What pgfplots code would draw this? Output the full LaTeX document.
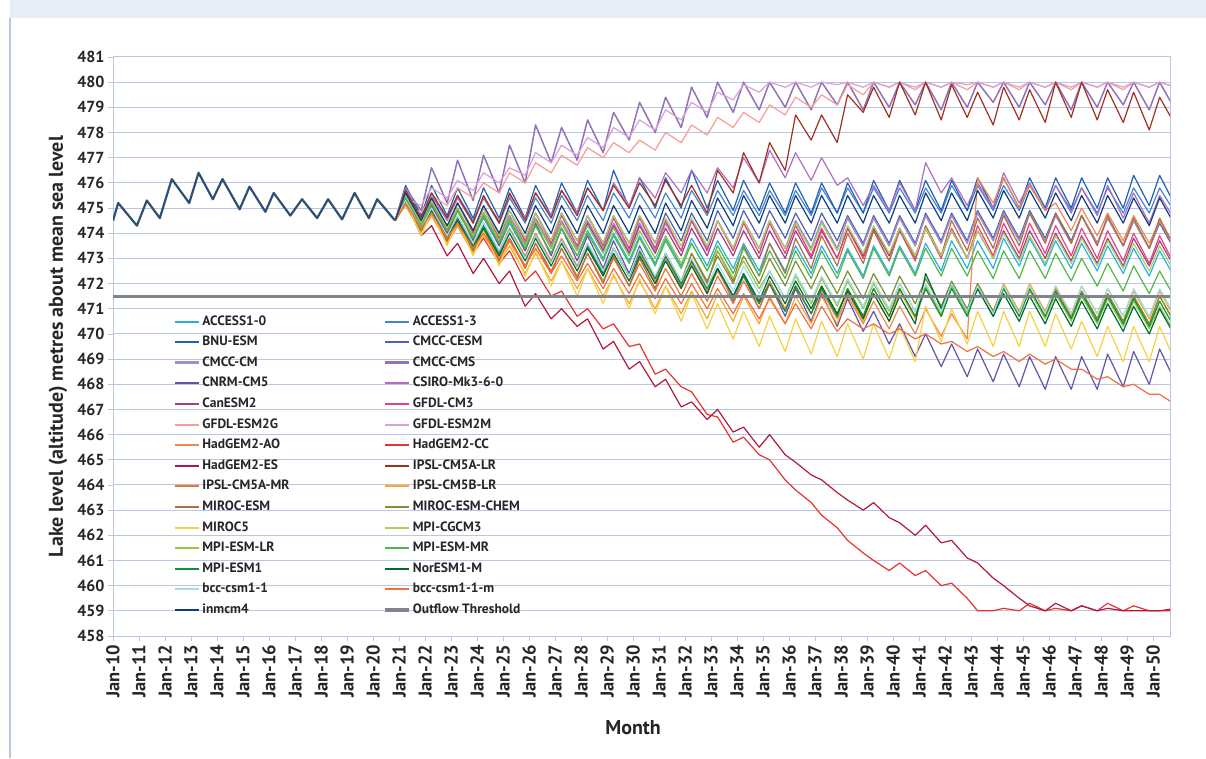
\documentclass[border=0pt]{standalone}
\usepackage{fontspec}
\setmainfont{PT Sans}
\usepackage{pgfplots}
\usepackage{pgfplotstable}
\pgfplotsset{compat=1.18}

\definecolor{gridc}{RGB}{185,199,228}
\definecolor{hdr}{RGB}{232,236,245}
\definecolor{histc}{RGB}{46,80,114}
\definecolor{ca10}{RGB}{41,176,226}
\definecolor{ca13}{RGB}{68,134,206}
\definecolor{cbnu}{RGB}{34,96,176}
\definecolor{ccesm}{RGB}{78,96,176}
\definecolor{cccm}{RGB}{160,142,200}
\definecolor{ccms}{RGB}{146,114,184}
\definecolor{ccnrm}{RGB}{98,84,168}
\definecolor{ccsiro}{RGB}{176,110,196}
\definecolor{ccan}{RGB}{160,64,128}
\definecolor{cgcm3}{RGB}{232,64,128}
\definecolor{cg2g}{RGB}{248,156,148}
\definecolor{cg2m}{RGB}{216,160,216}
\definecolor{chao}{RGB}{240,136,80}
\definecolor{chcc}{RGB}{230,50,50}
\definecolor{ches}{RGB}{176,24,64}
\definecolor{cilr}{RGB}{160,48,32}
\definecolor{cimr}{RGB}{232,120,48}
\definecolor{ciblr}{RGB}{248,168,48}
\definecolor{cmesm}{RGB}{176,112,64}
\definecolor{cmchem}{RGB}{128,144,48}
\definecolor{cmfive}{RGB}{248,208,64}
\definecolor{ccgcm}{RGB}{168,208,96}
\definecolor{cmlr}{RGB}{144,200,64}
\definecolor{cmmr}{RGB}{80,184,72}
\definecolor{cmone}{RGB}{16,144,64}
\definecolor{cnor}{RGB}{0,104,48}
\definecolor{cbcc}{RGB}{160,220,236}
\definecolor{cbccm}{RGB}{240,112,64}
\definecolor{cinm}{RGB}{16,60,128}
\definecolor{cthr}{RGB}{127,132,140}

% observed / shared record 2010-2020
\pgfplotstableread{
t v
2010.00 474.5
2010.20 475.2
2010.92 474.3
2011.30 475.3
2011.80 474.6
2012.26 476.15
2012.93 475.2
2013.29 476.4
2013.84 475.35
2014.21 476.15
2014.87 474.95
2015.25 475.85
2015.86 474.85
2016.18 475.6
2016.82 474.7
2017.27 475.35
2017.85 474.6
2018.27 475.35
2018.81 474.55
2019.29 475.6
2019.84 474.6
2020.16 475.35
2020.85 474.5
}\histdata

% model projections, seasonal high (.25) and low (.85) of each year
\pgfplotstableread{
t a10 a13 bnu cesm ccm cms cnrm csiro can gcm3 g2g g2m hao hcc hes ilr imr iblr mesm mchem m5 cgcm mlr mmr m1 nor bcc bccm inm
2020.85 474.5 474.5 474.5 474.5 474.5 474.5 474.5 474.5 474.5 474.5 474.5 474.5 474.5 474.5 474.5 474.5 474.5 474.5 474.5 474.5 474.5 474.5 474.5 474.5 474.5 474.5 474.5 474.5 474.5
2021.25 475.5 475.7 475.9 475.5 475.4 475.8 475.5 475.6 475.4 475.6 475.2 475.4 475.3 475.4 475.3 475.7 475.2 475.1 475.3 475.2 475.3 475.5 475.4 475.4 475.3 475.3 475.3 475.2 475.6
2021.85 474.4 474.7 474.7 474.4 474.3 474.9 474.2 474.6 474.3 474.4 474.8 475.1 474.2 474.2 473.9 474.6 474.1 474.0 474.1 474.1 473.9 474.4 474.3 474.3 474.2 474.2 474.2 474.2 474.5
2022.25 475.2 475.6 475.9 475.3 475.1 476.6 475.2 475.5 475.1 475.4 475.5 475.8 475.0 474.9 474.3 475.6 474.8 474.7 474.9 474.9 474.9 475.3 475.2 475.2 475.0 474.9 475.0 474.8 475.4
2022.85 474.1 474.6 474.7 474.2 474.0 475.2 473.9 474.5 474.0 474.2 475.1 475.4 473.9 473.6 473.1 474.6 473.7 473.6 473.7 473.8 473.5 474.2 474.1 474.1 473.9 473.8 473.9 473.8 474.3
2023.25 474.9 475.5 475.8 475.2 474.9 476.9 475.0 475.4 474.9 475.2 475.8 476.1 474.7 474.3 473.6 475.5 474.4 474.3 474.5 474.6 474.5 475.2 475.0 474.9 474.6 474.5 474.7 474.4 475.2
2023.85 473.8 474.5 474.6 474.1 473.8 475.3 473.7 474.4 473.8 474.0 475.4 475.7 473.6 473.2 472.4 474.4 473.3 473.2 473.3 473.5 473.1 474.1 473.9 473.8 473.5 473.4 473.6 473.4 474.1
2024.25 474.6 475.4 475.8 475.0 474.8 477.1 474.8 475.4 474.7 475.0 476.0 476.4 474.4 473.8 473.0 475.5 474.1 473.9 474.1 474.3 474.1 475.0 474.8 474.7 474.3 474.2 474.4 474.0 475.1
2024.85 473.5 474.4 474.6 473.9 473.7 475.6 473.5 474.5 473.6 473.8 475.6 476.0 473.3 472.8 472.0 474.4 473.0 472.8 472.9 473.2 472.7 473.9 473.7 473.6 473.2 473.1 473.3 473.0 474.0
2025.25 474.4 475.4 475.8 474.9 474.7 477.5 474.6 475.5 474.6 474.9 476.4 476.6 474.2 473.3 472.5 475.6 473.8 473.5 473.8 474.1 473.7 474.9 474.6 474.5 474.1 474.0 474.1 473.7 475.1
2025.85 473.3 474.4 474.6 473.8 473.6 476.0 473.3 474.6 473.5 473.7 476.0 476.3 473.1 472.1 471.1 474.5 472.7 472.4 472.6 473.0 472.3 473.8 473.5 473.4 473.0 472.9 473.0 472.7 474.0
2026.25 474.3 475.4 475.9 474.8 474.6 478.3 474.4 475.6 474.5 474.8 476.8 477.2 474.0 472.5 471.6 475.6 473.6 473.2 473.6 473.9 473.3 474.8 474.5 474.3 473.9 473.8 473.9 473.4 475.1
2026.85 473.2 474.4 474.7 473.7 473.5 476.8 473.1 474.7 473.4 473.6 476.4 476.8 472.9 471.5 470.6 474.6 472.5 472.1 472.4 472.8 471.9 473.7 473.4 473.2 472.8 472.7 472.8 472.4 474.0
2027.25 474.2 475.5 476.0 474.8 474.5 478.2 474.2 475.7 474.4 474.7 477.1 477.5 473.8 471.7 471.0 475.7 473.4 472.9 473.4 473.7 472.9 474.8 474.4 474.2 473.7 473.6 473.7 473.1 475.1
2027.85 473.1 474.5 474.8 473.7 473.4 476.9 472.9 474.8 473.3 473.5 476.7 477.1 472.7 470.7 470.3 474.7 472.3 471.8 472.2 472.6 471.5 473.7 473.3 473.1 472.6 472.5 472.6 472.1 474.0
2028.25 474.1 475.5 476.1 474.7 474.5 478.5 473.9 475.8 474.4 474.7 477.4 477.8 473.6 471.0 470.6 475.8 473.2 472.6 473.2 473.5 472.6 474.7 474.3 474.0 473.5 473.4 473.6 472.8 475.1
2028.85 473.0 474.5 474.9 473.6 473.4 477.2 472.6 474.9 473.3 473.5 477.0 477.4 472.5 470.2 469.4 474.9 472.1 471.5 472.0 472.4 471.2 473.6 473.2 472.9 472.4 472.3 472.5 471.8 474.0
2029.25 474.0 475.6 476.5 474.7 474.4 478.8 473.7 476.0 474.3 474.6 477.6 478.2 473.4 470.4 469.7 475.9 473.0 472.3 473.1 473.4 472.4 474.7 474.2 473.9 473.4 473.2 473.4 472.6 475.1
2029.85 472.9 474.6 475.0 473.6 473.3 477.7 472.4 475.1 473.2 473.4 477.2 477.8 472.3 469.5 468.6 475.0 471.9 471.2 471.9 472.3 471.0 473.6 473.1 472.8 472.3 472.1 472.3 471.6 474.0
2030.25 473.9 475.6 476.2 474.7 474.4 479.2 473.5 476.2 474.3 474.6 477.7 478.5 473.2 469.6 468.9 476.0 472.8 472.1 473.0 473.3 472.2 474.7 474.1 473.8 473.3 473.1 473.4 472.4 475.1
2030.85 472.8 474.6 475.0 473.6 473.3 478.0 472.2 475.4 473.2 473.4 477.3 478.1 472.1 468.4 467.9 475.1 471.7 471.0 471.8 472.2 470.8 473.6 473.0 472.7 472.2 472.0 472.3 471.4 474.0
2031.25 473.8 475.6 476.2 474.8 474.4 479.4 473.2 476.4 474.2 474.5 478.0 478.9 473.0 468.6 468.2 476.1 472.6 471.9 473.1 473.2 471.9 474.6 473.9 473.7 473.1 472.9 473.2 472.2 475.2
2031.85 472.7 474.6 475.0 473.7 473.3 478.2 471.9 475.6 473.1 473.3 477.6 478.5 471.9 467.9 467.1 475.1 471.5 470.8 471.9 472.1 470.5 473.5 472.8 472.6 472.0 471.8 472.1 471.2 474.1
2032.25 473.8 475.7 476.5 474.8 474.5 479.8 472.9 476.5 474.2 474.5 478.3 479.2 472.8 467.7 467.3 475.9 472.4 471.7 473.2 473.2 471.6 474.6 473.6 473.6 472.9 472.7 473.0 472.0 475.3
2032.85 472.7 474.7 475.0 473.7 473.4 478.6 471.6 475.6 473.1 473.3 477.9 478.8 471.7 466.8 466.6 474.8 471.3 470.6 472.0 472.1 470.2 473.5 472.5 472.5 471.8 471.6 471.9 471.0 474.2
2033.25 473.7 475.7 476.1 474.9 474.5 480.0 472.6 476.6 474.2 474.5 478.6 479.6 472.5 466.7 467.0 476.5 472.3 471.6 473.3 473.1 471.2 474.5 473.3 473.5 472.6 472.6 472.8 471.8 475.4
2033.85 472.6 474.7 474.9 473.8 473.4 478.8 471.3 475.8 473.1 473.3 478.2 479.3 471.4 465.7 466.1 475.6 471.2 470.5 472.1 472.0 469.8 473.4 472.2 472.4 471.5 471.5 471.7 470.8 474.3
2034.25 473.6 475.7 476.1 474.9 474.5 480.0 472.3 477.0 474.1 474.4 478.8 479.9 472.3 465.9 466.3 477.2 472.1 471.5 473.5 473.1 470.9 474.5 472.9 473.4 472.3 472.4 472.7 471.6 475.5
2034.85 472.5 474.7 474.9 473.8 473.4 478.9 471.0 476.0 473.0 473.2 478.4 479.6 471.2 465.2 465.5 476.0 471.0 470.4 472.3 472.0 469.5 473.4 471.8 472.3 471.2 471.3 471.6 470.6 474.4
2035.25 473.6 475.7 476.0 474.9 474.5 480.0 472.0 477.3 474.1 474.4 479.1 480.0 472.1 465.0 466.0 477.6 472.0 471.5 473.6 473.0 470.7 474.5 472.5 473.3 472.0 472.3 472.5 471.4 475.5
2035.85 472.5 474.7 474.8 473.8 473.4 479.0 470.7 476.2 473.0 473.2 478.7 479.8 471.0 464.2 465.2 476.5 470.9 470.4 472.4 471.9 469.3 473.4 471.4 472.2 470.9 471.2 471.4 470.4 474.4
2036.25 473.5 475.7 476.0 474.8 474.5 480.0 471.8 477.2 474.1 474.3 479.4 480.0 471.9 463.8 464.9 478.7 471.9 471.5 473.8 472.9 470.6 474.4 472.3 473.3 471.9 472.1 472.4 471.2 475.5
2036.85 472.4 474.7 474.8 473.7 473.4 478.9 470.5 476.1 473.0 473.1 479.0 479.8 470.8 463.3 464.4 477.7 470.8 470.4 472.6 471.8 469.2 473.3 471.2 472.2 470.8 471.0 471.3 470.2 474.4
2037.25 473.5 475.8 476.0 474.8 474.5 480.0 471.6 477.0 474.1 474.2 479.5 480.0 471.7 462.8 464.2 478.7 471.9 471.5 473.9 472.7 470.5 474.4 472.2 473.3 471.8 471.9 472.3 471.1 475.5
2037.85 472.4 474.8 474.8 473.7 473.4 479.1 470.3 475.9 473.0 473.0 479.1 479.9 470.6 462.3 463.7 477.6 470.8 470.4 472.7 471.6 469.1 473.3 471.1 472.2 470.7 470.8 471.2 470.1 474.4
2038.25 473.4 475.8 476.0 474.7 474.6 480.0 471.4 476.2 474.2 474.2 479.9 480.0 471.5 461.8 463.4 479.5 471.8 471.6 474.0 472.5 470.4 474.3 472.1 473.3 471.8 471.7 472.2 470.6 475.5
2038.85 472.3 474.8 474.8 473.6 473.5 478.9 470.1 475.1 473.1 473.0 479.5 479.8 470.4 461.3 463.0 478.8 470.7 470.5 472.8 471.4 469.0 473.2 471.0 472.2 470.7 470.6 471.1 470.2 474.4
2039.25 473.5 475.8 476.1 474.7 474.6 480.0 470.9 475.9 474.2 474.1 480.0 480.0 471.3 461.0 463.3 479.8 471.8 471.6 474.1 472.4 470.4 474.3 472.0 473.4 471.8 471.6 472.1 470.4 475.5
2039.85 472.4 474.8 474.9 473.6 473.5 479.0 469.6 474.9 473.1 472.9 479.8 479.8 470.2 460.6 462.7 478.6 470.7 470.5 472.9 471.3 469.0 473.2 470.9 472.3 470.7 470.5 471.0 470.0 474.4
2040.25 473.5 475.8 476.1 474.7 474.6 480.0 470.4 476.0 474.2 474.1 480.0 480.0 471.1 460.9 462.5 480.0 471.8 471.7 474.2 472.3 470.3 474.2 472.0 473.4 471.8 471.5 472.0 470.2 475.5
2040.85 472.4 474.8 474.9 473.6 473.5 479.1 469.1 474.9 473.1 472.9 479.7 479.8 470.0 460.4 462.0 478.7 470.7 470.6 473.0 471.2 468.9 473.1 470.9 472.3 470.7 470.4 470.9 469.8 474.4
2041.25 473.6 475.8 476.1 474.8 474.7 480.0 470.0 476.8 474.2 474.2 480.0 480.0 471.0 460.6 462.4 480.0 471.8 471.8 474.3 472.2 471.1 474.2 471.9 473.4 471.8 472.4 472.0 470.0 475.6
2041.85 472.5 474.8 474.9 473.7 473.6 478.9 468.7 475.6 473.1 473.0 479.8 479.8 469.9 460.0 461.7 478.5 470.7 470.7 473.1 471.1 469.7 473.1 470.8 472.3 470.7 471.0 470.9 469.6 474.5
2042.25 473.7 475.9 476.1 474.8 474.7 480.0 469.6 476.2 474.1 474.2 480.0 480.0 470.8 460.1 461.8 479.9 471.9 471.9 474.5 472.1 471.0 474.1 471.9 473.4 471.8 472.0 472.0 469.7 475.6
2042.85 472.6 474.9 474.9 473.7 473.6 479.0 468.3 475.1 473.0 473.0 479.7 479.9 469.8 459.5 461.1 478.6 470.8 470.8 473.3 471.0 469.6 473.0 470.8 472.3 470.7 470.9 470.9 469.3 474.5
2043.25 473.7 475.9 476.2 474.9 474.8 480.0 469.4 476.0 474.1 474.3 480.0 480.0 476.2 459.0 460.9 479.6 471.9 472.0 474.6 472.0 470.9 474.1 471.8 473.3 471.8 471.8 471.9 469.5 475.7
2043.85 472.6 474.9 475.0 473.8 473.7 479.2 468.1 475.0 473.0 473.1 479.8 479.8 475.2 459.0 460.3 478.3 470.8 470.9 473.4 470.9 469.5 473.0 470.7 472.2 470.7 470.7 470.8 469.1 474.6
2044.25 473.8 475.9 476.2 474.9 474.8 480.0 469.2 476.4 474.1 474.4 480.0 480.0 476.2 459.1 460.0 479.8 471.9 472.0 474.7 471.9 470.9 474.0 471.8 473.3 471.8 471.6 471.9 469.3 475.7
2044.85 472.7 474.9 475.0 473.8 473.7 479.0 467.9 475.2 473.0 473.2 479.7 479.8 475.0 459.0 459.5 478.5 470.8 470.9 473.5 470.8 469.5 472.9 470.7 472.2 470.7 470.5 470.8 468.9 474.6
2045.25 473.8 475.9 476.2 474.9 474.8 480.0 469.1 476.0 474.1 474.4 480.0 480.0 475.9 459.3 459.2 479.7 471.9 472.0 474.8 471.8 470.9 473.9 471.7 473.3 471.8 471.5 471.9 469.2 475.7
2045.85 472.7 474.9 475.0 473.8 473.7 479.1 467.8 474.9 473.0 473.2 479.8 479.8 474.9 459.0 459.0 478.4 470.8 470.9 473.6 470.7 469.5 472.8 470.6 472.2 470.7 470.4 470.8 468.8 474.6
2046.25 473.7 475.9 476.2 474.8 474.7 480.0 469.1 475.9 474.0 474.3 480.0 480.0 475.2 459.1 459.3 480.0 471.8 471.9 474.8 471.7 470.8 473.9 471.6 473.2 471.7 471.4 471.9 469.0 475.6
2046.85 472.6 474.9 475.0 473.7 473.6 478.9 467.8 474.8 472.9 473.1 479.7 479.8 474.1 459.0 459.0 478.6 470.7 470.8 473.6 470.6 469.4 472.8 470.5 472.1 470.6 470.3 470.8 468.6 474.5
2047.25 473.6 475.8 476.2 474.7 474.7 480.0 469.1 475.8 473.9 474.2 480.0 480.0 475.0 459.2 459.2 480.0 471.7 471.9 474.7 471.7 470.5 473.8 471.5 473.0 471.6 471.3 471.9 468.6 475.5
2047.85 472.5 474.8 475.0 473.6 473.6 479.0 467.8 474.7 472.8 473.0 479.8 479.8 473.9 459.0 459.0 478.5 470.6 470.8 473.5 470.6 469.1 472.7 470.4 471.9 470.5 470.2 470.8 468.2 474.4
2048.25 473.5 475.8 476.2 474.6 474.6 480.0 469.2 475.9 473.8 474.1 480.0 480.0 474.8 459.3 459.1 479.7 471.6 471.8 474.7 471.6 470.3 473.7 471.4 472.8 471.5 471.2 471.8 468.3 475.5
2048.85 472.4 474.8 475.0 473.5 473.5 479.1 467.9 474.6 472.7 472.9 479.7 479.8 473.7 459.0 459.0 478.4 470.5 470.7 473.5 470.5 468.9 472.6 470.3 471.7 470.4 470.1 470.7 467.9 474.4
2049.25 473.4 475.8 476.3 474.5 474.5 480.0 469.3 475.6 473.8 474.0 480.0 480.0 474.7 459.2 459.0 479.6 471.5 471.7 474.6 471.5 470.3 473.6 471.3 472.7 471.4 471.1 471.8 468.0 475.4
2049.85 472.3 474.8 475.1 473.4 473.4 478.9 468.0 474.4 472.7 472.8 479.8 479.8 473.6 459.0 459.0 478.1 470.4 470.6 473.4 470.4 468.9 472.5 470.2 471.6 470.3 470.0 470.7 467.6 474.3
2050.25 473.3 475.8 476.3 474.4 474.5 480.0 469.4 475.5 473.7 473.9 480.0 480.0 474.5 459.0 459.0 479.4 471.5 471.7 474.6 471.5 470.3 473.5 471.1 472.5 471.3 471.0 471.8 467.6 475.4
2050.85 472.2 474.8 475.1 473.3 473.4 478.9 468.1 474.5 472.6 472.7 479.8 479.8 473.4 459.0 459.1 478.3 470.4 470.6 473.4 470.4 468.9 472.4 470.0 471.4 470.2 469.9 470.7 467.2 474.3
}\proj

\begin{document}
\begin{tikzpicture}
\useasboundingbox (0pt,0pt) rectangle (1206pt,758pt);
\fill[hdr] (10pt,740pt) rectangle (1206pt,758pt);
\draw[gridc, line width=1.5pt] (10pt,0pt) -- (10pt,740pt);
\begin{axis}[
  at={(113pt,122pt)}, anchor=south west,
  scale only axis, width=1057pt, height=579pt,
  xmin=2010, xmax=2050.65, ymin=458, ymax=481,
  axis line style={draw=gridc, line width=1pt},
  ymajorgrids, grid style={draw=gridc, line width=1pt},
  tick style={draw=gridc, line width=0.8pt},
  tick align=outside, major tick length=5pt, tick pos=left,
  ytick={458,459,...,481},
  xtick={2010,2011,...,2050},
  xticklabels={Jan-10,Jan-11,Jan-12,Jan-13,Jan-14,Jan-15,Jan-16,Jan-17,Jan-18,Jan-19,Jan-20,Jan-21,Jan-22,Jan-23,Jan-24,Jan-25,Jan-26,Jan-27,Jan-28,Jan-29,Jan-30,Jan-31,Jan-32,Jan-33,Jan-34,Jan-35,Jan-36,Jan-37,Jan-38,Jan-39,Jan-40,Jan-41,Jan-42,Jan-43,Jan-44,Jan-45,Jan-46,Jan-47,Jan-48,Jan-49,Jan-50},
  /pgf/number format/assume math mode=true,
  yticklabel style={font=\bfseries\fontsize{16}{17}\selectfont, color=black!85},
  xticklabel style={rotate=90, anchor=east, font=\bfseries\fontsize{18.5}{20}\selectfont, color=black!85},
  ylabel={Lake level (altitude) metres about mean sea level},
  ylabel style={at={(axis description cs:-0.052,0.5)}, anchor=center, font=\bfseries\fontsize{20}{22}\selectfont, color=black!85},
  xlabel={Month},
  xlabel style={at={(axis description cs:0.492,-0.159)}, anchor=center, font=\bfseries\fontsize{20}{22}\selectfont, color=black!85},
  every axis plot/.append style={line width=1.2pt, line join=round},
  legend columns=2,
  legend cell align=left,
  legend image code/.code={\draw[#1] (0pt,0pt) -- (24pt,0pt);},
  legend image post style={line width=2pt},
  legend style={at={(0.0568,0.558)}, anchor=north west, draw=none, fill=none,
    inner sep=0pt, row sep=3.6pt,
    font=\bfseries\fontsize{13.5}{15}\selectfont,
    nodes={text height=10pt, text depth=3pt, inner sep=2pt, text=black!85},
    /tikz/every even column/.append style={column sep=92pt}},
]
\addplot[histc, line width=2.2pt, forget plot] table[x=t, y=v] {\histdata};
\addplot[ca10] table[x=t, y=a10] {\proj}; \addlegendentry{ACCESS1-0}
\addplot[ca13] table[x=t, y=a13] {\proj}; \addlegendentry{ACCESS1-3}
\addplot[cbnu] table[x=t, y=bnu] {\proj}; \addlegendentry{BNU-ESM}
\addplot[ccesm] table[x=t, y=cesm] {\proj}; \addlegendentry{CMCC-CESM}
\addplot[cccm, line width=1.5pt, legend image post style={line width=3.2pt}] table[x=t, y=ccm] {\proj}; \addlegendentry{CMCC-CM}
\addplot[ccms, line width=1.5pt, legend image post style={line width=3.2pt}] table[x=t, y=cms] {\proj}; \addlegendentry{CMCC-CMS}
\addplot[ccnrm] table[x=t, y=cnrm] {\proj}; \addlegendentry{CNRM-CM5}
\addplot[ccsiro] table[x=t, y=csiro] {\proj}; \addlegendentry{CSIRO-Mk3-6-0}
\addplot[ccan] table[x=t, y=can] {\proj}; \addlegendentry{CanESM2}
\addplot[cgcm3] table[x=t, y=gcm3] {\proj}; \addlegendentry{GFDL-CM3}
\addplot[cg2g] table[x=t, y=g2g] {\proj}; \addlegendentry{GFDL-ESM2G}
\addplot[cg2m] table[x=t, y=g2m] {\proj}; \addlegendentry{GFDL-ESM2M}
\addplot[chao] table[x=t, y=hao] {\proj}; \addlegendentry{HadGEM2-AO}
\addplot[chcc] table[x=t, y=hcc] {\proj}; \addlegendentry{HadGEM2-CC}
\addplot[ches] table[x=t, y=hes] {\proj}; \addlegendentry{HadGEM2-ES}
\addplot[cilr] table[x=t, y=ilr] {\proj}; \addlegendentry{IPSL-CM5A-LR}
\addplot[cimr] table[x=t, y=imr] {\proj}; \addlegendentry{IPSL-CM5A-MR}
\addplot[ciblr] table[x=t, y=iblr] {\proj}; \addlegendentry{IPSL-CM5B-LR}
\addplot[cmesm] table[x=t, y=mesm] {\proj}; \addlegendentry{MIROC-ESM}
\addplot[cmchem] table[x=t, y=mchem] {\proj}; \addlegendentry{MIROC-ESM-CHEM}
\addplot[cmfive] table[x=t, y=m5] {\proj}; \addlegendentry{MIROC5}
\addplot[ccgcm] table[x=t, y=cgcm] {\proj}; \addlegendentry{MPI-CGCM3}
\addplot[cmlr] table[x=t, y=mlr] {\proj}; \addlegendentry{MPI-ESM-LR}
\addplot[cmmr] table[x=t, y=mmr] {\proj}; \addlegendentry{MPI-ESM-MR}
\addplot[cmone] table[x=t, y=m1] {\proj}; \addlegendentry{MPI-ESM1}
\addplot[cnor] table[x=t, y=nor] {\proj}; \addlegendentry{NorESM1-M}
\addplot[cbcc] table[x=t, y=bcc] {\proj}; \addlegendentry{bcc-csm1-1}
\addplot[cbccm] table[x=t, y=bccm] {\proj}; \addlegendentry{bcc-csm1-1-m}
\addplot[cinm] table[x=t, y=inm] {\proj}; \addlegendentry{inmcm4}
\addplot[cthr, line width=3pt, legend image post style={line width=3.5pt}] coordinates {(2010,471.5) (2050.65,471.5)}; \addlegendentry{Outflow Threshold}
\end{axis}
\end{tikzpicture}
\end{document}
